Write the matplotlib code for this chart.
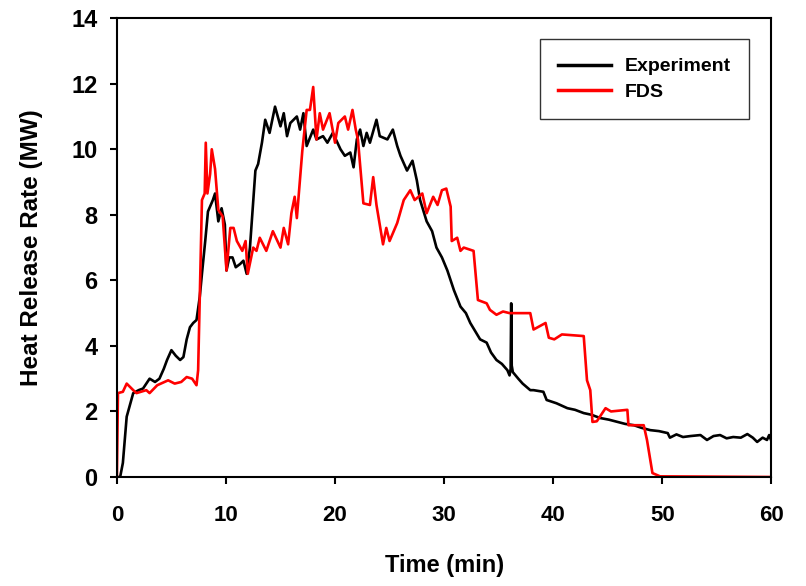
import matplotlib.pyplot as plt

plt.rcParams['font.family'] = ['Liberation Sans', 'DejaVu Sans']
plt.rcParams['font.weight'] = 'bold'

# --- Experiment ---
exp_time = [0, 0.3, 0.55, 0.9, 1.2, 1.5, 2.0, 2.4, 3.0, 3.5, 3.9, 4.3, 4.6, 5.0, 5.4, 5.8, 6.1,
            6.4, 6.7, 7.0, 7.3, 7.6, 7.8, 8.1, 8.35, 8.8, 9.0, 9.3, 9.6, 9.9, 10.05, 10.3, 10.6,
            10.9, 11.3, 11.6, 11.9, 12.2, 12.5, 12.7, 12.95, 13.3, 13.6, 14.0, 14.5, 15.0, 15.3,
            15.6, 15.9, 16.5, 16.8, 17.1, 17.4, 18.0, 18.3, 18.9, 19.3, 19.8, 20.5, 20.9, 21.4,
            21.7, 22.0, 22.3, 22.6, 22.9, 23.2, 23.8, 24.1, 24.8, 25.3, 25.7, 26.0, 26.6, 27.1,
            27.5, 27.8, 28.4, 28.9, 29.3, 29.8, 30.3, 30.9, 31.5, 32.0, 32.4, 33.3, 33.9, 34.3,
            34.8, 35.3, 35.8, 36.0, 36.1, 36.15, 36.2, 36.3, 36.8, 37.2, 37.9, 38.2, 39.1, 39.4,
            40.3, 41.3, 42.0, 42.8, 43.5, 44.3, 45.1, 45.9, 46.6, 47.4, 48.1, 48.9, 49.7, 50.5,
            50.7, 51.3, 51.9, 52.6, 53.5, 54.1, 54.7, 55.3, 55.9, 56.5, 57.2, 57.8, 58.3, 58.7,
            59.2, 59.6, 59.8, 60.0]
exp_hrr = [0.0, 0.0, 0.43, 1.84, 2.2, 2.56, 2.65, 2.7, 3.0, 2.9, 3.0, 3.3, 3.57, 3.87, 3.7, 3.57, 3.66,
           4.2, 4.57, 4.7, 4.79, 5.5, 6.2, 7.2, 8.1, 8.45, 8.65, 7.8, 8.2, 7.7, 6.3, 6.7, 6.7,
           6.4, 6.5, 6.6, 6.2, 7.0, 8.4, 9.35, 9.55, 10.2, 10.9, 10.5, 11.3, 10.7, 11.1,
           10.4, 10.8, 11.0, 10.6, 11.1, 10.1, 10.6, 10.3, 10.4, 10.2, 10.5, 10.0, 9.8, 9.9,
           9.45, 10.3, 10.6, 10.1, 10.5, 10.2, 10.9, 10.4, 10.3, 10.6, 10.1, 9.8, 9.35, 9.65,
           9.05, 8.45, 7.8, 7.5, 7.0, 6.7, 6.3, 5.7, 5.2, 5.0, 4.7, 4.2, 4.1, 3.8,
           3.57, 3.45, 3.26, 3.1, 3.3, 5.3, 3.4, 3.2, 3.0, 2.85, 2.65, 2.65, 2.6, 2.35,
           2.25, 2.1, 2.05, 1.95, 1.9, 1.8, 1.75, 1.68, 1.62, 1.58, 1.5, 1.43, 1.4, 1.34,
           1.2, 1.3, 1.22, 1.25, 1.28, 1.13, 1.25, 1.28, 1.18, 1.22, 1.2, 1.31, 1.2, 1.07,
           1.2, 1.13, 1.28, 1.1]

# --- FDS ---
fds_time = [0, 0.1, 0.55, 0.9, 1.5, 1.8, 2.7, 3.0, 3.7, 4.7, 5.3, 5.9, 6.4, 6.9, 7.3, 7.45, 7.8,
            8.05, 8.15, 8.3, 8.55, 8.7, 9.0, 9.3, 9.7, 10.05, 10.4, 10.7, 11.0, 11.5, 11.8, 12.0,
            12.5, 12.8, 13.1, 13.7, 14.3, 15.0, 15.3, 15.7, 16.0, 16.3, 16.5, 17.0, 17.4, 17.7,
            18.0, 18.3, 18.6, 18.9, 19.5, 20.0, 20.3, 20.9, 21.2, 21.6, 21.9, 22.1, 22.6, 23.2,
            23.5, 23.8, 24.4, 24.7, 25.0, 25.7, 26.3, 26.9, 27.3, 28.0, 28.4, 29.0, 29.4, 29.8,
            30.2, 30.6, 30.7, 31.2, 31.5, 31.8, 32.7, 33.1, 33.9, 34.2, 34.8, 35.4, 36.0, 37.9,
            38.2, 39.3, 39.6, 40.1, 40.8, 42.8, 43.1, 43.4, 43.6, 44.0, 44.8, 45.3, 46.8, 46.9,
            48.3, 48.6, 49.1, 49.8, 60.0]
fds_hrr = [0.0, 2.56, 2.6, 2.85, 2.65, 2.56, 2.65, 2.56, 2.8, 2.95, 2.85, 2.9, 3.05, 3.0, 2.8, 3.26, 8.45,
           8.65, 10.2, 8.65, 9.25, 10.0, 9.4, 8.15, 7.95, 6.3, 7.6, 7.6, 7.2, 6.9, 7.2, 6.2,
           7.0, 6.9, 7.3, 6.9, 7.5, 7.0, 7.6, 7.1, 8.05, 8.55, 7.9, 9.95, 11.2, 11.2,
           11.9, 10.3, 11.1, 10.6, 11.1, 10.2, 10.8, 11.0, 10.6, 11.2, 10.6, 10.3, 8.35, 8.3,
           9.15, 8.3, 7.1, 7.6, 7.2, 7.75, 8.45, 8.75, 8.45, 8.65, 8.05, 8.55, 8.3, 8.75,
           8.8, 8.25, 7.2, 7.3, 6.9, 7.0, 6.9, 5.4, 5.3, 5.1, 4.95, 5.05, 5.0, 5.0,
           4.5, 4.7, 4.25, 4.2, 4.35, 4.3, 2.95, 2.65, 1.68, 1.7, 2.1, 2.0, 2.05, 1.58,
           1.58, 1.13, 0.12, 0.02, 0.0]

fig = plt.figure(figsize=(8.06, 5.86), dpi=100)
ax = fig.add_axes([0.145, 0.186, 0.812, 0.783])

ax.plot(exp_time, exp_hrr, color='black', lw=1.9, label='Experiment')
ax.plot(fds_time, fds_hrr, color='#ff0000', lw=1.9, label='FDS')

ax.set_xlim(0, 60)
ax.set_ylim(0, 14)
ax.set_xticks(range(0, 61, 10))
ax.set_yticks(range(0, 15, 2))
ax.tick_params(direction='out', length=5, width=1.5)
ax.tick_params(axis='x', labelsize=16, pad=15)
ax.tick_params(axis='y', labelsize=17, pad=9)
for lbl in ax.get_xticklabels() + ax.get_yticklabels():
    lbl.set_fontweight('bold')
for sp in ax.spines.values():
    sp.set_linewidth(1.5)

ax.set_xlabel('Time (min)', fontsize=17, fontweight='bold', labelpad=20)
ax.set_ylabel('Heat Release Rate (MW)', fontsize=17.5, fontweight='bold', labelpad=20)

leg = ax.legend(loc='upper right', bbox_to_anchor=(0.966, 0.954), borderaxespad=0,
                fontsize=14, frameon=True, fancybox=False, edgecolor='black',
                handlelength=2.7, handletextpad=0.7, borderpad=0.95, labelspacing=0.4)
leg.get_frame().set_linewidth(1.0)
for t in leg.get_texts():
    t.set_fontweight('bold')
for l in leg.get_lines():
    l.set_linewidth(2.5)

fig.savefig('out.png', dpi=100)
